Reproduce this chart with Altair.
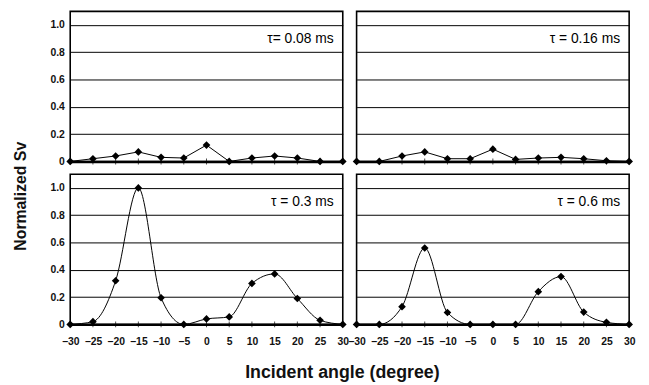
import altair as alt
import pandas as pd

angles = [-30, -25, -20, -15, -10, -5, 0, 5, 10, 15, 20, 25, 30]
tau_008 = [0, 0.02, 0.04, 0.07, 0.03, 0.025, 0.12, 0, 0.025, 0.04, 0.025, 0, 0]
tau_016 = [0, 0, 0.04, 0.07, 0.02, 0.02, 0.09, 0.015, 0.025, 0.03, 0.02, 0.005, 0]
tau_03 = [0, 0.02, 0.32, 1.0, 0.195, 0, 0.04, 0.055, 0.30, 0.37, 0.19, 0.03, 0]
tau_06 = [0, 0, 0.13, 0.56, 0.087, 0, 0, 0, 0.24, 0.35, 0.09, 0.015, 0]
labels = ["τ= 0.08 ms", "τ = 0.16 ms", "τ = 0.3 ms", "τ = 0.6 ms"]
y_ticks = [0, 0.2, 0.4, 0.6, 0.8, 1.0]
x_ticks = [-30, -25, -20, -15, -10, -5, 0, 5, 10, 15, 20, 25, 30]

FONT = "Liberation Sans"
W, H = 276, 152


def panel(values, label, left, bottom, smooth):
    df = pd.DataFrame({"angle": angles, "value": values})
    x = alt.X(
        "angle:Q",
        scale=alt.Scale(domain=[-30, 30], nice=False, zero=False),
        axis=alt.Axis(
            values=x_ticks,
            tickCount=30,
            labels=bottom,
            ticks=False,
            grid=False,
            domain=True,
            domainColor="black",
            domainWidth=2.5,
            title=None,
            labelFont=FONT,
            labelFontSize=10.5,
            labelFontWeight="bold",
            labelColor="#111111",
            labelPadding=12,
            labelOverlap=False,
            labelFlush=False,
            labelExpr="datum.value < 0 ? '\u2212' + abs(datum.value) : '' + datum.value",
        ),
    )
    y = alt.Y(
        "value:Q",
        scale=alt.Scale(domain=[0, 1.1], nice=False),
        axis=alt.Axis(
            values=y_ticks,
            tickCount=20,
            labels=left,
            ticks=False,
            domain=False,
            grid=True,
            gridColor="black",
            gridWidth=1,
            gridOpacity=1,
            title=None,
            labelFont=FONT,
            labelFontSize=10.5,
            labelFontWeight="bold",
            labelColor="#111111",
            labelPadding=6,
            labelOverlap=False,
            labelExpr="datum.value == 0 ? '0' : format(datum.value, '.1f')",
        ),
    )
    base = alt.Chart(df)
    line = base.mark_line(
        color="black", strokeWidth=1, interpolate="monotone" if smooth else "linear"
    ).encode(x=x, y=y)
    pts = base.mark_point(
        shape="diamond", filled=True, color="black", size=60, opacity=1
    ).encode(x=x, y=y)
    tks = base.mark_tick(color="black", orient="vertical", size=6, thickness=1).encode(
        x=x, y=alt.datum(0)
    )
    tdf = pd.DataFrame({"angle": [28], "value": [0.9], "t": [label]})
    txt = alt.Chart(tdf).mark_text(
        align="right", baseline="middle", font=FONT, fontSize=14, color="black"
    ).encode(x=x, y=y, text="t:N")
    return alt.layer(tks, line, pts, txt).properties(width=W, height=H)


grid = alt.concat(
    panel(tau_008, labels[0], True, False, False),
    panel(tau_016, labels[1], False, False, False),
    panel(tau_03, labels[2], True, True, True),
    panel(tau_06, labels[3], False, True, True),
    columns=2,
    spacing=alt.RowColnumber(row=13, column=14),
    bounds="flush",
    title=alt.TitleParams(
        "Incident angle (degree)",
        orient="bottom",
        anchor="middle",
        font=FONT,
        fontSize=18,
        fontWeight="bold",
        color="#111111",
        offset=17,
    ),
)
chart = (
    alt.hconcat(
        grid,
        title=alt.TitleParams(
            "Normalized Sv",
            orient="left",
            anchor="middle",
            font=FONT,
            fontSize=16,
            fontWeight="bold",
            color="#111111",
            offset=20,
        ),
    )
    .properties(padding={"left": 5, "top": 0, "right": 5, "bottom": 0}, background="white")
    .configure_view(stroke="black", strokeWidth=1.6)
)

chart.save("out.html", embed_options={"renderer": "svg", "actions": False})
